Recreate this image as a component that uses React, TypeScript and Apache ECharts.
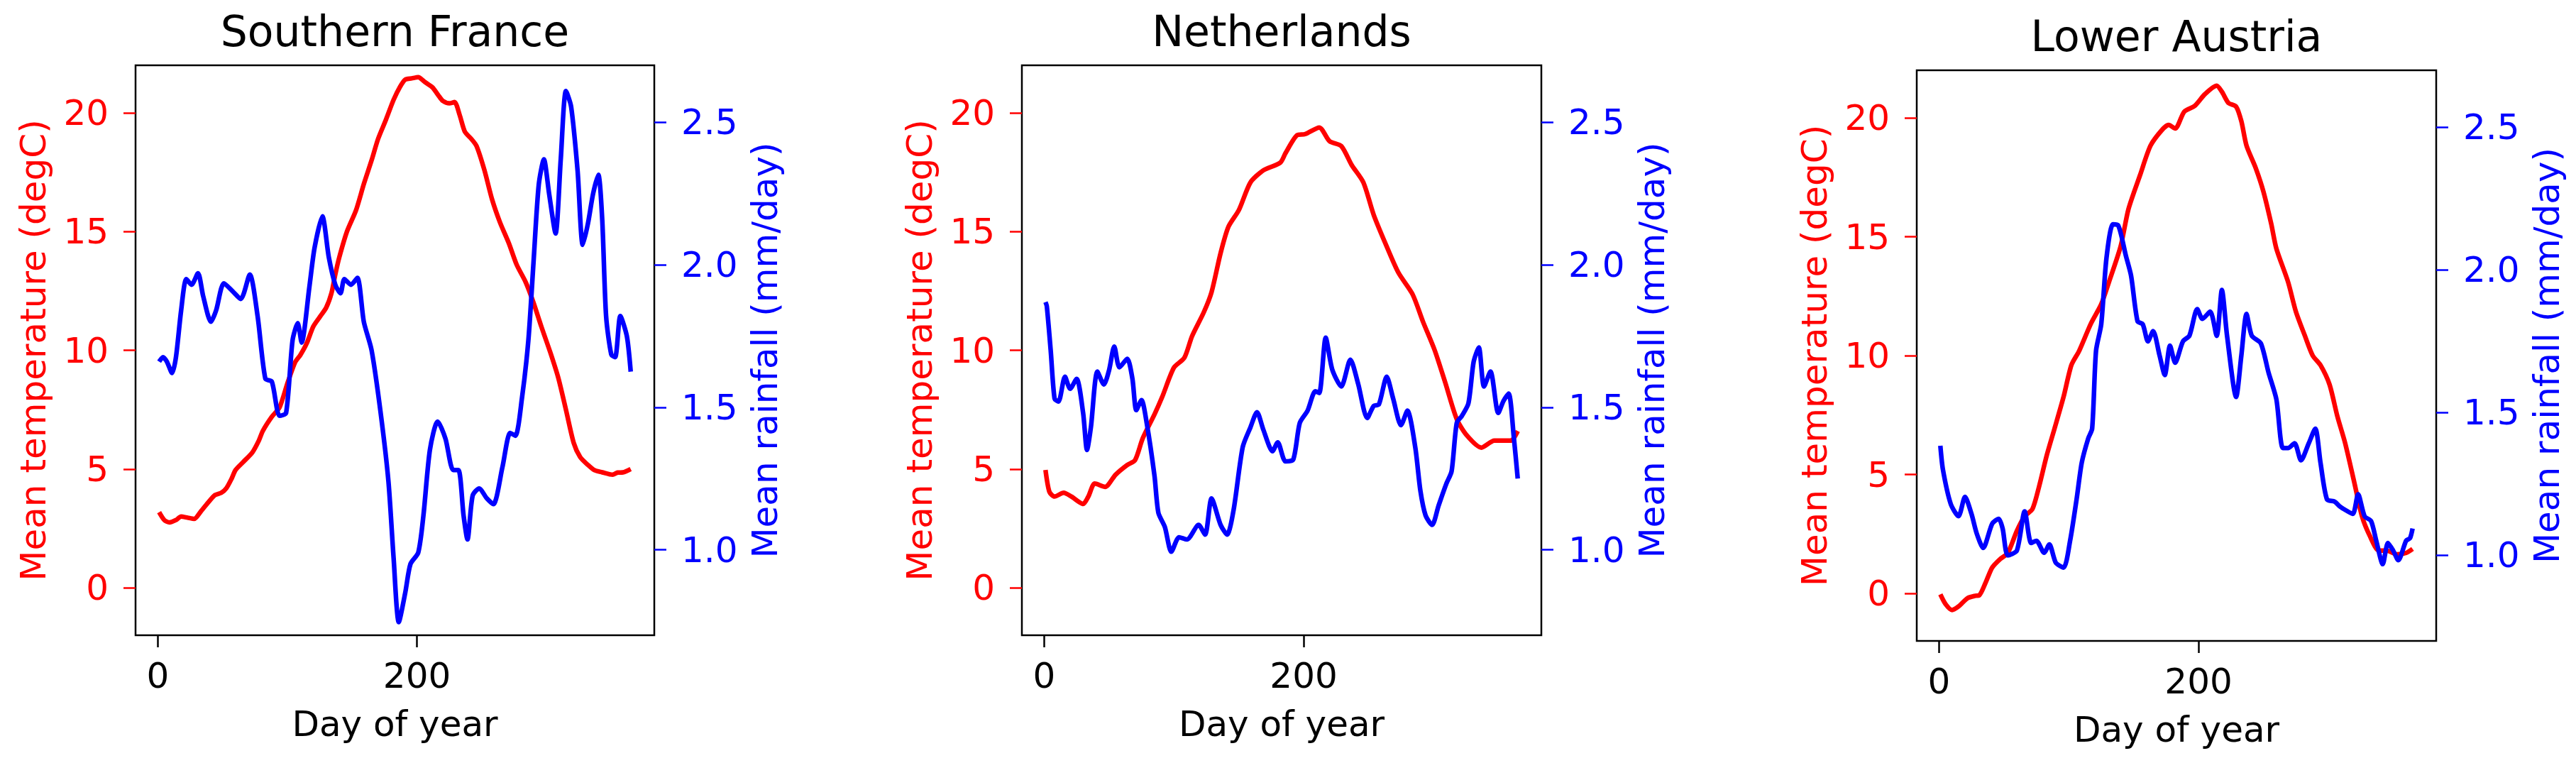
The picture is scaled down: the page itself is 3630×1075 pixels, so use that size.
import React, { useEffect, useRef } from "react";
import * as echarts from "echarts";

// ---------- Data ----------
const panelTitles = ["Southern France", "Netherlands", "Lower Austria"];
const xTicks = [0, 200];
const tempTicks = [0, 5, 10, 15, 20];
const rainTicks = [1.0, 1.5, 2.0, 2.5];

// Southern France
const frTempDays = [1, 5, 9, 14, 18, 23, 28, 33, 39, 44, 49, 53, 57, 60, 66, 73, 78, 81, 88, 94, 100, 106, 110, 115, 120, 125, 130, 134, 137, 140, 146, 153, 159, 165, 170, 176, 182, 187, 191, 196, 201, 206, 212, 217, 220, 225, 229, 233, 237, 242, 246, 252, 258, 264, 271, 277, 284, 290, 296, 303, 309, 315, 321, 326, 332, 337, 343, 351, 355, 359, 365];
const frTemp = [3.18, 2.85, 2.75, 2.85, 3.0, 2.95, 2.9, 3.2, 3.6, 3.9, 4.0, 4.2, 4.6, 4.96, 5.3, 5.7, 6.2, 6.6, 7.2, 7.6, 8.6, 9.5, 9.8, 10.3, 11.0, 11.4, 11.8, 12.4, 13.2, 13.9, 15.0, 15.9, 17.0, 18.0, 18.9, 19.7, 20.55, 21.1, 21.4, 21.45, 21.5, 21.3, 21.07, 20.7, 20.5, 20.4, 20.45, 19.9, 19.2, 18.9, 18.6, 17.6, 16.35, 15.4, 14.5, 13.6, 12.86, 12.0, 11.0, 9.9, 8.86, 7.5, 6.1, 5.5, 5.17, 4.95, 4.86, 4.76, 4.85, 4.86, 5.0];
const frRainDays = [1, 4, 7, 11, 14, 18, 22, 26, 31, 35, 41, 45, 51, 58, 64, 71, 77, 83, 88, 94, 99, 104, 108, 111, 117, 121, 127, 132, 137, 141, 144, 149, 154, 159, 165, 172, 178, 182, 186, 191, 195, 201, 205, 210, 216, 222, 228, 232, 236, 239, 243, 248, 254, 259, 266, 272, 276, 281, 286, 290, 294, 298, 302, 307, 311, 315, 319, 324, 328, 332, 336, 340, 343, 346, 350, 353, 357, 362, 365];
const frRain = [1.66, 1.676, 1.66, 1.62, 1.676, 1.84, 1.95, 1.93, 1.97, 1.89, 1.8, 1.84, 1.935, 1.906, 1.88, 1.966, 1.82, 1.6, 1.59, 1.47, 1.48, 1.735, 1.795, 1.727, 1.923, 2.06, 2.17, 2.026, 1.93, 1.9, 1.95, 1.93, 1.954, 1.8, 1.7, 1.48, 1.24, 0.97, 0.746, 0.85, 0.95, 0.99, 1.12, 1.35, 1.45, 1.39, 1.28, 1.28, 1.12, 1.036, 1.19, 1.215, 1.18, 1.16, 1.29, 1.41, 1.4, 1.53, 1.735, 2.01, 2.28, 2.37, 2.25, 2.11, 2.37, 2.61, 2.555, 2.33, 2.07, 2.145, 2.25, 2.316, 2.16, 1.82, 1.685, 1.676, 1.82, 1.75, 1.625];

// Netherlands
const nlTempDays = [1, 4, 8, 15, 21, 30, 34, 39, 47, 55, 64, 70, 76, 85, 91, 100, 108, 114, 123, 129, 136, 142, 150, 159, 169, 182, 186, 195, 201, 212, 220, 229, 237, 246, 254, 263, 273, 284, 292, 301, 309, 318, 326, 337, 347, 356, 360, 365];
const nlTemp = [4.96, 4.04, 3.84, 4.0, 3.84, 3.53, 3.84, 4.39, 4.25, 4.76, 5.17, 5.37, 6.3, 7.3, 8.04, 9.27, 9.68, 10.6, 11.6, 12.45, 14.1, 15.2, 15.9, 17.07, 17.58, 17.9, 18.3, 19.06, 19.1, 19.38, 18.8, 18.6, 17.8, 17.07, 15.7, 14.5, 13.27, 12.35, 11.2, 10.0, 8.66, 7.1, 6.4, 5.9, 6.2, 6.2, 6.2, 6.6];
const nlRainDays = [1, 2, 5, 8, 11, 16, 20, 25, 30, 33, 36, 41, 46, 50, 54, 58, 64, 68, 71, 75, 79, 85, 88, 93, 98, 104, 110, 119, 124, 129, 136, 141, 146, 153, 159, 164, 169, 176, 180, 186, 192, 197, 203, 209, 212, 217, 222, 229, 236, 242, 249, 254, 258, 264, 269, 275, 280, 286, 290, 294, 299, 304, 310, 314, 318, 322, 327, 331, 335, 339, 344, 350, 354, 358, 362, 365];
const nlRain = [1.869, 1.855, 1.7, 1.53, 1.52, 1.607, 1.565, 1.6, 1.48, 1.35, 1.43, 1.625, 1.58, 1.63, 1.713, 1.64, 1.67, 1.6, 1.49, 1.525, 1.445, 1.26, 1.13, 1.08, 0.993, 1.044, 1.036, 1.087, 1.053, 1.18, 1.087, 1.053, 1.14, 1.36, 1.43, 1.483, 1.42, 1.346, 1.377, 1.31, 1.317, 1.445, 1.488, 1.556, 1.55, 1.744, 1.633, 1.573, 1.667, 1.582, 1.462, 1.505, 1.51, 1.607, 1.53, 1.437, 1.488, 1.36, 1.206, 1.12, 1.087, 1.155, 1.232, 1.275, 1.445, 1.47, 1.514, 1.659, 1.71, 1.573, 1.625, 1.48, 1.522, 1.548, 1.394, 1.25];

// Lower Austria
const atTempDays = [1, 5, 10, 15, 22, 28, 31, 36, 41, 47, 53, 60, 66, 72, 77, 83, 89, 96, 102, 108, 117, 125, 131, 140, 146, 155, 163, 172, 177, 182, 189, 197, 205, 214, 218, 223, 229, 233, 237, 244, 250, 256, 260, 269, 275, 282, 288, 294, 301, 307, 313, 320, 326, 332, 339, 345, 353, 360, 365];
const atTemp = [-0.04, -0.45, -0.7, -0.55, -0.2, -0.1, -0.08, 0.47, 1.09, 1.44, 1.7, 2.63, 3.24, 3.55, 4.47, 5.8, 6.93, 8.27, 9.6, 10.2, 11.34, 12.16, 13.1, 14.6, 16.16, 17.6, 18.83, 19.5, 19.7, 19.55, 20.26, 20.5, 21.0, 21.35, 21.1, 20.63, 20.47, 19.86, 18.83, 17.9, 16.9, 15.55, 14.5, 13.1, 11.86, 10.83, 10.0, 9.6, 8.78, 7.45, 6.32, 4.68, 3.24, 2.42, 1.8, 1.8, 1.64, 1.7, 1.87];
const atRainDays = [1, 3, 9, 15, 20, 25, 29, 34, 41, 46, 49, 53, 60, 66, 71, 75, 81, 85, 90, 96, 101, 106, 110, 115, 118, 121, 125, 129, 134, 138, 144, 148, 153, 157, 161, 165, 170, 174, 178, 182, 188, 193, 199, 203, 209, 214, 218, 222, 229, 233, 237, 241, 248, 254, 260, 265, 269, 274, 279, 285, 290, 294, 299, 305, 309, 315, 319, 323, 328, 333, 337, 342, 346, 350, 354, 360, 363, 365];
const atRain = [1.384, 1.3, 1.18, 1.137, 1.205, 1.145, 1.077, 1.026, 1.111, 1.128, 1.094, 1.0, 1.017, 1.154, 1.043, 1.051, 1.009, 1.038, 0.974, 0.957, 1.051, 1.196, 1.325, 1.41, 1.444, 1.717, 1.81, 2.04, 2.16, 2.157, 2.05, 1.98, 1.82, 1.81, 1.75, 1.786, 1.7, 1.632, 1.735, 1.675, 1.75, 1.77, 1.863, 1.829, 1.854, 1.769, 1.93, 1.769, 1.555, 1.7, 1.846, 1.77, 1.743, 1.64, 1.547, 1.376, 1.376, 1.393, 1.333, 1.393, 1.444, 1.325, 1.196, 1.188, 1.171, 1.154, 1.145, 1.214, 1.137, 1.12, 1.051, 0.969, 1.043, 1.017, 0.983, 1.051, 1.06, 1.094];

// ---------- Layout / style ----------
const FONT = "DejaVu Sans";
const RED = "#ff0000";
const BLUE = "#0000ff";
const grids = [
  { left: 191, top: 92, width: 731, height: 803 },
  { left: 1440, top: 92, width: 732, height: 803 },
  { left: 2701, top: 99, width: 732, height: 804 },
];

const pair = (xs: number[], ys: number[]) => {
  const n = Math.min(xs.length, ys.length);
  const out: number[][] = [];
  for (let i = 0; i < n; i++) out.push([xs[i], ys[i]]);
  return out;
};

const panels = [
  { temp: pair(frTempDays, frTemp), rain: pair(frRainDays, frRain) },
  { temp: pair(nlTempDays, nlTemp), rain: pair(nlRainDays, nlRain) },
  { temp: pair(atTempDays, atTemp), rain: pair(atRainDays, atRain) },
];

export default function App() {
  const ref = useRef<HTMLDivElement>(null);
  useEffect(() => {
    if (!ref.current) return;
    const chart = echarts.init(ref.current, undefined, { renderer: "svg" });

    const xAxis: any[] = [];
    const yAxis: any[] = [];
    const series: any[] = [];
    const graphic: any[] = [];

    grids.forEach((g, i) => {
      xAxis.push({
        type: "value",
        gridIndex: i,
        position: "bottom",
        min: -17.2,
        max: 383.2,
        axisLine: { show: false, onZero: false },
        splitLine: { show: false },
        axisTick: {
          show: true,
          inside: false,
          length: 17,
          customValues: xTicks,
          lineStyle: { color: "#000", width: 2.5 },
        },
        axisLabel: {
          customValues: xTicks,
          fontSize: 50,
          fontFamily: FONT,
          color: "#000",
          margin: 57,
          verticalAlign: "middle",
        },
        name: "Day of year",
        nameLocation: "middle",
        nameGap: 125,
        nameTextStyle: {
          fontSize: 50,
          fontFamily: FONT,
          color: "#000",
          verticalAlign: "middle",
        },
      });
      yAxis.push({
        type: "value",
        gridIndex: i,
        position: "left",
        min: -2,
        max: 22,
        axisLine: { show: false, onZero: false },
        splitLine: { show: false },
        axisTick: {
          show: true,
          inside: false,
          length: 17,
          customValues: tempTicks,
          lineStyle: { color: RED, width: 2.5 },
        },
        axisLabel: {
          customValues: tempTicks,
          fontSize: 50,
          fontFamily: FONT,
          color: RED,
          margin: 38,
          verticalAlign: "middle",
        },
        name: "Mean temperature (degC)",
        nameLocation: "middle",
        nameGap: 144,
        nameRotate: 90,
        nameTextStyle: {
          fontSize: 50,
          fontFamily: FONT,
          color: RED,
          verticalAlign: "middle",
          align: "center",
        },
      });
      yAxis.push({
        type: "value",
        gridIndex: i,
        position: "right",
        min: 0.7,
        max: 2.7,
        axisLine: { show: false, onZero: false },
        splitLine: { show: false },
        axisTick: {
          show: true,
          inside: false,
          length: 17,
          customValues: rainTicks,
          lineStyle: { color: BLUE, width: 2.5 },
        },
        axisLabel: {
          customValues: rainTicks,
          formatter: (v: number) => v.toFixed(1),
          fontSize: 50,
          fontFamily: FONT,
          color: BLUE,
          margin: 38,
          verticalAlign: "middle",
        },
        name: "Mean rainfall (mm/day)",
        nameLocation: "middle",
        nameGap: 156,
        nameRotate: 90,
        nameTextStyle: {
          fontSize: 50,
          fontFamily: FONT,
          color: BLUE,
          verticalAlign: "middle",
          align: "center",
        },
      });
      series.push({
        type: "line",
        xAxisIndex: i,
        yAxisIndex: i * 2,
        data: panels[i].temp,
        showSymbol: false,
        smooth: 0.25,
        lineStyle: { color: RED, width: 6.5 },
        z: 2,
      });
      series.push({
        type: "line",
        xAxisIndex: i,
        yAxisIndex: i * 2 + 1,
        data: panels[i].rain,
        showSymbol: false,
        smooth: 0.25,
        lineStyle: { color: BLUE, width: 6.5 },
        z: 3,
      });
      graphic.push({
        type: "text",
        x: g.left + g.width / 2,
        y: g.top - 48.5,
        style: {
          text: panelTitles[i],
          fontSize: 60,
          fontFamily: FONT,
          fill: "#000",
          align: "center",
          verticalAlign: "middle",
        },
      });
    });

    chart.setOption({
      animation: false,
      backgroundColor: "#ffffff",
      grid: grids.map((g) => ({
        ...g,
        show: true,
        borderColor: "#000",
        borderWidth: 2.5,
        backgroundColor: "transparent",
        containLabel: false,
      })),
      xAxis,
      yAxis,
      series,
      graphic,
    });
    return () => chart.dispose();
  }, []);
  return (
    <div
      ref={ref}
      style={{ position: "absolute", left: 0, top: 0, width: 3630, height: 1075 }}
    />
  );
}
